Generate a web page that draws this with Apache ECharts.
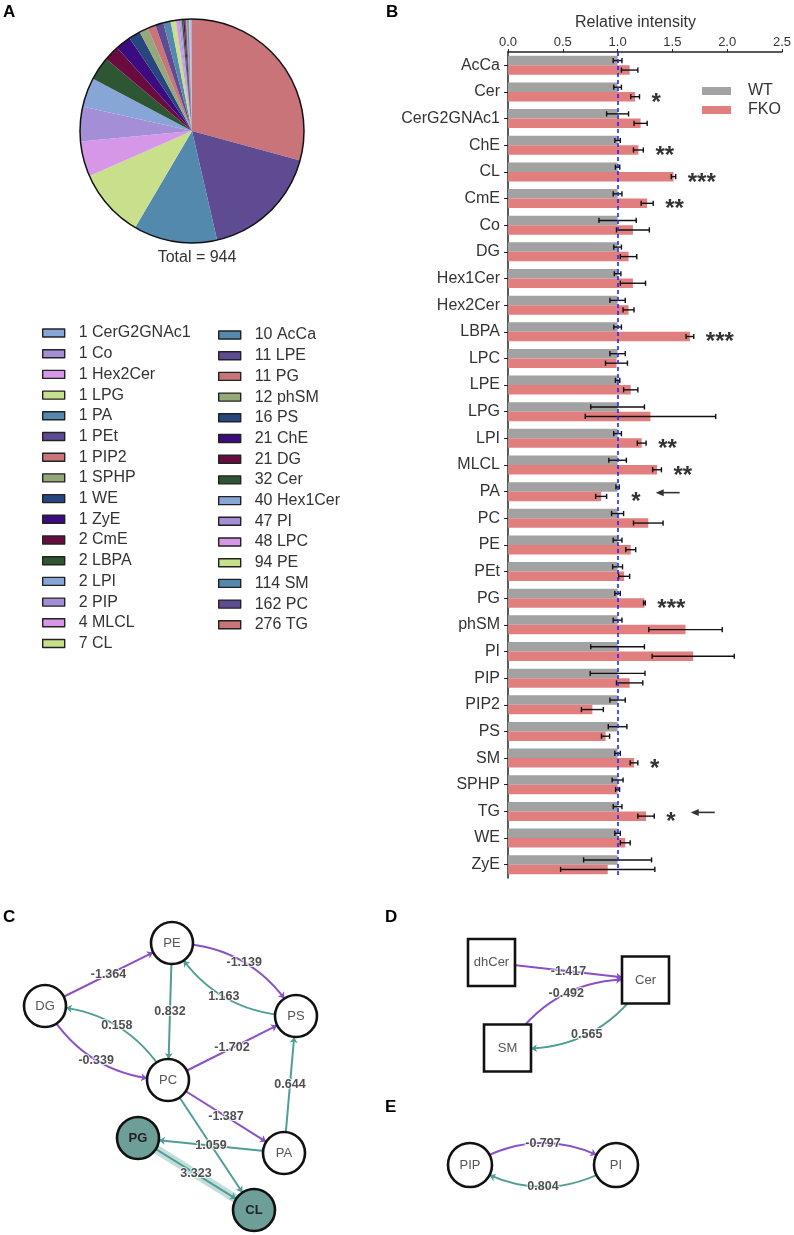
<!DOCTYPE html>
<html><head><meta charset="utf-8">
<script src="https://cdn.jsdelivr.net/npm/echarts@6/dist/echarts.min.js"></script>
<style>html,body{margin:0;padding:0;background:#fff}#c{width:794px;height:1235px}</style>
</head><body><div id="c"></div>
<script>
// ---------- Panel A data ----------
const lipidNames = ['CerG2GNAc1','Co','Hex2Cer','LPG','PA','PEt','PIP2','SPHP','WE','ZyE','CmE','LBPA','LPI','PIP','MLCL','CL',
  'AcCa','LPE','PG','phSM','PS','ChE','DG','Cer','Hex1Cer','PI','LPC','PE','SM','PC','TG'];
const lipidCounts = [1,1,1,1,1,1,1,1,1,1,2,2,2,2,4,7,10,11,11,12,16,21,21,32,40,47,48,94,114,162,276];

// ---------- Panel B data ----------
const categories = ['AcCa','Cer','CerG2GNAc1','ChE','CL','CmE','Co','DG','Hex1Cer','Hex2Cer','LBPA','LPC','LPE','LPG','LPI','MLCL',
  'PA','PC','PE','PEt','PG','phSM','PI','PIP','PIP2','PS','SM','SPHP','TG','WE','ZyE'];
const wtMean  = [1,1,1,1,1,1,1,1,1,1,1,1,1,1,1,1,1,1,1,1,1,1,1,1,1,1,1,1,1,1,1];
const wtSD    = [0.04,0.035,0.10,0.025,0.02,0.04,0.17,0.035,0.03,0.07,0.035,0.07,0.02,0.245,0.035,0.08,
  0.015,0.055,0.04,0.045,0.025,0.04,0.245,0.25,0.07,0.085,0.025,0.05,0.04,0.025,0.31];
const fkoMean = [1.11,1.16,1.21,1.19,1.51,1.27,1.14,1.10,1.14,1.10,1.66,0.99,1.12,1.30,1.22,1.36,
  0.85,1.28,1.12,1.06,1.245,1.62,1.69,1.11,0.77,0.89,1.15,1.00,1.26,1.07,0.91];
const fkoSD   = [0.075,0.04,0.06,0.045,0.02,0.055,0.15,0.075,0.115,0.05,0.035,0.10,0.065,0.595,0.04,0.04,
  0.05,0.135,0.045,0.05,0.008,0.335,0.375,0.12,0.10,0.037,0.035,0.018,0.075,0.045,0.43];
const sigMarks = [['Cer','*'],['ChE','**'],['CL','***'],['CmE','**'],['LBPA','***'],['LPI','**'],['MLCL','**'],
  ['PA','*'],['PG','***'],['SM','*'],['TG','*']];
const arrowMarks = ['PA','TG'];
const refLine = 1.0;

// ---------- Panels C, D, E data ----------
const netCNodes = ['PE','DG','PS','PC','PA','PG','CL'];
const netCHighlight = ['PG','CL'];
const netCEdges = [['DG','PE',-1.364],['PE','PS',-1.139],['PS','PE',1.163],['PE','PC',0.832],['PC','DG',0.158],
  ['DG','PC',-0.339],['PC','PS',-1.702],['PA','PS',0.644],['PC','PA',-1.387],['PA','PG',1.059],['PC','CL',null],['PG','CL',3.323]];
const netDNodes = ['dhCer','Cer','SM'];
const netDEdges = [['dhCer','Cer',-1.417],['SM','Cer',-0.492],['Cer','SM',0.565]];
const netENodes = ['PIP','PI'];
const netEEdges = [['PIP','PI',-0.797],['PI','PIP',0.804]];

// ---------- layout (positions / styles) ----------
const nodePos = {PE:[172,943],DG:[45,1006],PS:[296,1016],PC:[168,1080],PA:[284,1153],PG:[138,1138],CL:[254,1210],
  dhCer:[491.5,962.5],Cer:[645.5,980],SM:[507.5,1048],PIP:[470,1165],PI:[616,1165]};
const curveOf = {'PE>PS':0.28,'PS>PE':0.28,'PC>DG':-0.28,'DG>PC':-0.28,'SM>Cer':0.3,'Cer>SM':0.3,'PIP>PI':0.3,'PI>PIP':0.3};
const FONT = '"Liberation Sans", Arial, sans-serif';
const PURPLE = '#8b4fc7', TEAL = '#4f9e95';
const piePalette = ['#88a5d8','#a48fd6','#d797e8','#c8e08c','#5389ad','#5f4b92','#c87479','#94a878','#27467f','#3d0b80','#6a0b40','#2f5633'];
const BARW = 9.5;

const chart = echarts.init(document.getElementById('c'), null, {renderer:'canvas'});

const countOf = {};
lipidNames.forEach((n,i)=>countOf[n]=lipidCounts[i]);
const total = lipidCounts.reduce((a,b)=>a+b,0);
const pieData = lipidNames.map((n,i)=>({name:n, value:lipidCounts[i], itemStyle:{color:piePalette[i%12]}})).reverse();

function errData(mean, sd){ return categories.map((c,i)=>[i, mean[i]-sd[i], mean[i]+sd[i]]); }
function errSeries(mean, sd, off){
  return {type:'custom', xAxisIndex:0, yAxisIndex:0, silent:true, z:4, data: errData(mean,sd),
    encode:{y:0, x:[1,2]},
    renderItem:(p,api)=>{
      const i=api.value(0);
      const a=api.coord([api.value(1), i]); const b=api.coord([api.value(2), i]);
      const y=a[1]+off;
      const st={stroke:'#111', lineWidth:1.4};
      return {type:'group', children:[
        {type:'line', shape:{x1:a[0],y1:y,x2:b[0],y2:y}, style:st},
        {type:'line', shape:{x1:a[0],y1:y-2.6,x2:a[0],y2:y+2.6}, style:st},
        {type:'line', shape:{x1:b[0],y1:y-2.6,x2:b[0],y2:y+2.6}, style:st}
      ]};
    }};
}
const STAR_GAP = 0.11;
function starStart(cat){ const i=categories.indexOf(cat); return Math.max(wtMean[i]+wtSD[i], fkoMean[i]+fkoSD[i]) + STAR_GAP; }
const starData = sigMarks.map(([c,s])=>[starStart(c), categories.indexOf(c)]);
const arrowData = arrowMarks.map(c=>[starStart(c), categories.indexOf(c), sigMarks.find(m=>m[0]===c)[1].length]);

// network helpers
function curvePoint(s,t,c){
  const p1=nodePos[s], p2=nodePos[t];
  const mid=[(p1[0]+p2[0])/2,(p1[1]+p2[1])/2];
  const cp=[mid[0]-(p1[1]-p2[1])*c, mid[1]-(p2[0]-p1[0])*c];
  return [0.25*p1[0]+0.5*cp[0]+0.25*p2[0], 0.25*p1[1]+0.5*cp[1]+0.25*p2[1]];
}
function graphSeries(nodes, edges, opts){
  const links=[];
  edges.forEach(([s,t,w])=>{
    const c=curveOf[s+'>'+t]||0;
    const col = (w!==null && w<0) ? PURPLE : TEAL;
    if (w!==null && Math.abs(w)>2) {
      links.push({source:s,target:t,symbol:['none','none'],lineStyle:{color:'rgba(79,158,149,0.35)',width:9,curveness:c}});
    }
    links.push({source:s,target:t,lineStyle:{color:col,width:2,curveness:c,opacity:1}});
  });
  return {type:'graph', coordinateSystem:'cartesian2d', xAxisIndex:1, yAxisIndex:1, layout:'none', silent:true, z:3,
    data: nodes.map(n=>{
      const hi = (opts.highlight||[]).includes(n);
      return {name:n, value:nodePos[n], symbol:opts.symbol, symbolSize:opts.size,
        itemStyle:{color: hi?'#6d9e98':'#fff', borderColor:'#111', borderWidth:2.6},
        label:{show:true, position:'inside', fontFamily:FONT, fontSize:13, color: hi?'#222':'#555', fontWeight: hi?'bold':'normal'}};
    }),
    links, edgeSymbol:['none','arrow'], edgeSymbolSize:[0,6],
    lineStyle:{width:2, opacity:1}, edgeLabel:{show:false}, emphasis:{disabled:true}};
}
const allEdges = netCEdges.concat(netDEdges, netEEdges);
const edgeLabelData = allEdges.filter(e=>e[2]!==null).map(([s,t,w])=>{
  const p=curvePoint(s,t,curveOf[s+'>'+t]||0); return [p[0],p[1],w.toFixed(3)];
});

const panelLetters = [['A',3,12],['B',386,12],['C',3,917],['D',385,917],['E',385,1107]];

const option = {
  animation:false,
  textStyle:{fontFamily:FONT},
  graphic: panelLetters.map(([t,x,y])=>({type:'text', x, y, style:{text:t, fontFamily:FONT, fontSize:17, fontWeight:'bold', fill:'#000', verticalAlign:'middle'}}))
    .concat([{type:'text', x:197, y:258, style:{text:'Total = '+total, fontFamily:FONT, fontSize:16, fill:'#333', align:'center', verticalAlign:'middle'}}]),
  legend:[
    {data:lipidNames.slice(0,16), left:42, top:325, orient:'vertical', itemGap:4.7, itemWidth:22, itemHeight:8, icon:'rect', padding:0,
      selectedMode:false, itemStyle:{borderColor:'#222', borderWidth:1.4}, formatter:n=>countOf[n]+' '+n,
      textStyle:{fontSize:16, color:'#333', lineHeight:16, padding:[0,0,0,9]}},
    {data:lipidNames.slice(16), left:218, top:327, orient:'vertical', itemGap:4.7, itemWidth:22, itemHeight:8, icon:'rect', padding:0,
      selectedMode:false, itemStyle:{borderColor:'#222', borderWidth:1.4}, formatter:n=>countOf[n]+' '+n,
      textStyle:{fontSize:16, color:'#333', lineHeight:16, padding:[0,0,0,9]}},
    {data:['WT','FKO'], left:702, top:83, orient:'vertical', itemGap:3, itemWidth:29, itemHeight:8, icon:'rect', padding:0,
      selectedMode:false, textStyle:{fontSize:16, color:'#333', lineHeight:16, padding:[0,0,0,12]}}
  ],
  grid:[
    {left:508, top:52, width:275, height:826},
    {left:0, top:0, width:794, height:1235}
  ],
  xAxis:[
    {type:'value', gridIndex:0, position:'top', min:0, max:2.5, interval:0.5,
      name:'Relative intensity', nameLocation:'middle', nameGap:21,
      nameTextStyle:{fontSize:16, color:'#333', padding:[0,19,0,0]},
      axisLine:{show:true, lineStyle:{color:'#222', width:1.5}},
      axisTick:{show:true, length:3, lineStyle:{color:'#222'}},
      axisLabel:{fontSize:13, color:'#333', margin:3, formatter:v=>v.toFixed(1)},
      splitLine:{show:false}},
    {type:'value', gridIndex:1, min:0, max:794, show:false}
  ],
  yAxis:[
    {type:'category', gridIndex:0, data:categories, inverse:true,
      axisLine:{show:true, lineStyle:{color:'#222', width:1.5}},
      axisTick:{show:true, length:4, alignWithLabel:true, lineStyle:{color:'#222'}},
      axisLabel:{fontSize:16, color:'#333', margin:8}},
    {type:'value', gridIndex:1, min:0, max:1235, inverse:true, show:false}
  ],
  series:[
    {type:'pie', name:'lipids', center:[192,131], radius:112, startAngle:90, clockwise:true, data:pieData,
      label:{show:false}, labelLine:{show:false}, itemStyle:{borderWidth:0}, silent:true, z:2},
    {type:'pie', name:'outline', center:[192,131], radius:112, data:[{name:'_o', value:1}], silent:true, z:3,
      label:{show:false}, labelLine:{show:false}, itemStyle:{color:'rgba(0,0,0,0)', borderColor:'#111', borderWidth:1.5}},
    {type:'bar', name:'WT', xAxisIndex:0, yAxisIndex:0, data:wtMean, barWidth:BARW, barGap:'0%', itemStyle:{color:'#a2a2a2'}, silent:true},
    {type:'bar', name:'FKO', xAxisIndex:0, yAxisIndex:0, data:fkoMean, barWidth:BARW, barGap:'0%', itemStyle:{color:'#e17f7f'}, silent:true,
      markLine:{silent:true, symbol:['none','none'], label:{show:false}, z:10,
        lineStyle:{color:'#2424ff', type:[4,3], width:1.6}, data:[{xAxis:refLine}]}},
    errSeries(wtMean, wtSD, -BARW/2),
    errSeries(fkoMean, fkoSD, BARW/2),
    {type:'custom', xAxisIndex:0, yAxisIndex:0, silent:true, z:5, data:starData, encode:{x:0,y:1},
      renderItem:(p,api)=>{
        const c=api.coord([api.value(0), api.value(1)]);
        return {type:'text', x:c[0], y:c[1]+11, style:{text:sigMarks[p.dataIndex][1], fontFamily:FONT, fontSize:24, fontWeight:'bold', fill:'#333', align:'left', verticalAlign:'middle'}};
      }},
    {type:'custom', xAxisIndex:0, yAxisIndex:0, silent:true, z:5, data:arrowData, encode:{x:0,y:1},
      renderItem:(p,api)=>{
        const c=api.coord([api.value(0), api.value(1)]);
        const x0=c[0]+api.value(2)*9.4+15, y=c[1]+1;
        return {type:'group', children:[
          {type:'line', shape:{x1:x0+4,y1:y,x2:x0+24,y2:y}, style:{stroke:'#333', lineWidth:1.6}},
          {type:'polygon', shape:{points:[[x0,y],[x0+8,y-3.5],[x0+8,y+3.5]]}, style:{fill:'#333'}}
        ]};
      }},
    graphSeries(netCNodes, netCEdges, {symbol:'circle', size:42, highlight:netCHighlight}),
    graphSeries(netDNodes, netDEdges, {symbol:'rect', size:47}),
    graphSeries(netENodes, netEEdges, {symbol:'circle', size:44}),
    {type:'scatter', name:'edgeLabels', xAxisIndex:1, yAxisIndex:1, silent:true, z:6, symbolSize:1,
      itemStyle:{color:'rgba(0,0,0,0)'}, data:edgeLabelData,
      label:{show:true, position:'inside', formatter:p=>p.data[2], fontFamily:FONT, fontSize:12.5, fontWeight:'bold',
        color:'#222', textBorderColor:'#fff', textBorderWidth:2}}
  ]
};
chart.setOption(option);
</script></body></html>
